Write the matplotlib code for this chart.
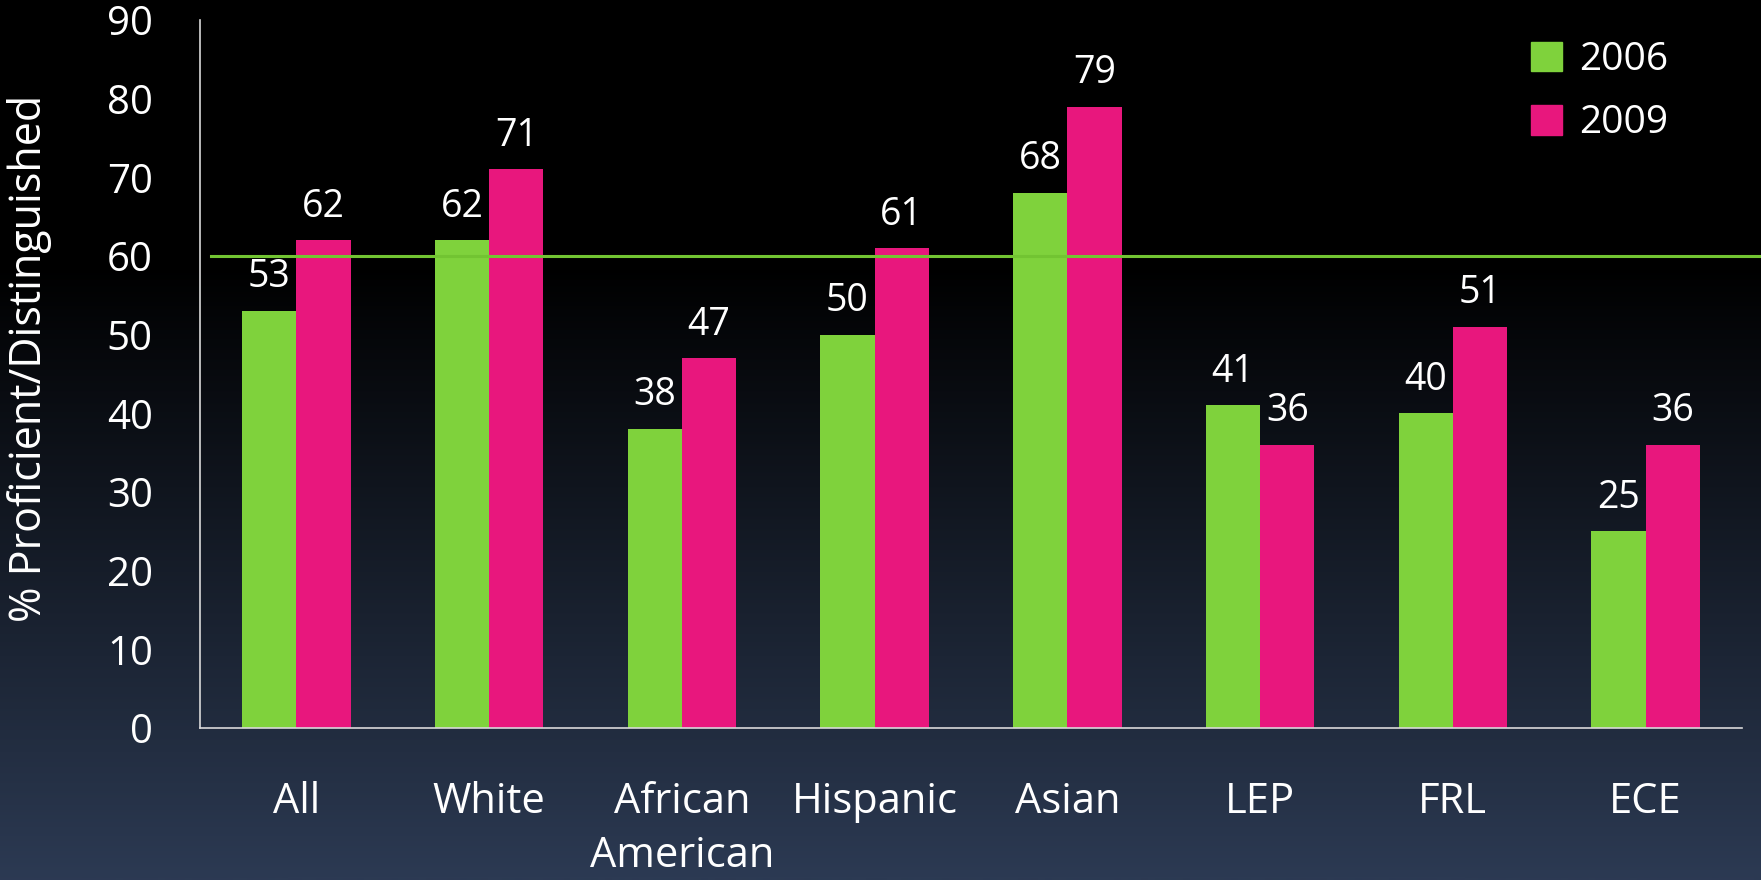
import numpy as np
import matplotlib.pyplot as plt
from matplotlib.colors import LinearSegmentedColormap
from matplotlib.patches import Patch
import matplotlib.transforms as mtransforms

# ---- data ----
groups = ["All", "White", "African\nAmerican", "Hispanic", "Asian", "LEP", "FRL", "ECE"]
series_names = ["2006", "2009"]
vals_2006 = [53, 62, 38, 50, 68, 41, 40, 25]
vals_2009 = [62, 71, 47, 61, 79, 36, 51, 36]
target = 60
yticks = [0, 10, 20, 30, 40, 50, 60, 70, 80, 90]

GREEN = "#7fd23c"
PINK = "#e8177d"
TXT = "white"

plt.rcParams["font.family"] = ["Open Sans", "DejaVu Sans"]

W, H = 1761, 880
fig = plt.figure(figsize=(W / 100, H / 100), dpi=100)

# background: black top, blue-grey fade at the bottom
bg = fig.add_axes([0, 0, 1, 1], zorder=-10)
bg.axis("off")
g = np.ones((H, 1))
start = 0.70  # fraction of height (from bottom) where the fade ends
yy = np.linspace(1, 0, H)
g[:, 0] = np.clip((start - yy) / start, 0, 1)
cmap = LinearSegmentedColormap.from_list("bg", ["#000000", "#2c3a53"])
bg.imshow(g, aspect="auto", cmap=cmap, extent=[0, 1, 0, 1], vmin=0, vmax=1)

ax = fig.add_axes([200 / W, 1 - 728 / H, 1542 / W, 708 / H])
ax.set_facecolor("none")

x = np.arange(len(groups))
bw = 0.282
b1 = ax.bar(x - bw / 2, vals_2006, bw, color=GREEN, label=series_names[0], zorder=2)
b2 = ax.bar(x + bw / 2, vals_2009, bw, color=PINK, label=series_names[1], zorder=2)

for bars, vals in ((b1, vals_2006), (b2, vals_2009)):
    for r, v in zip(bars, vals):
        ax.annotate(str(v), (r.get_x() + r.get_width() / 2, v),
                    xytext=(0, 17), textcoords="offset points",
                    ha="center", va="baseline", color=TXT, fontsize=27)

# target line, runs past the right edge of the plot
trans = mtransforms.blended_transform_factory(fig.transFigure, ax.transData)
ax.plot([211 / W, 1.0], [target, target], transform=trans, color="#72c432",
        lw=2.2, clip_on=False, zorder=3)

ax.set_xlim(-0.5, len(groups) - 0.5)
ax.set_ylim(0, 90)
ax.set_yticks(yticks)
ax.set_xticks(x)
ax.set_xticklabels(groups, fontsize=30, color=TXT, linespacing=1.38)
ax.tick_params(axis="x", length=0, pad=38)
ax.tick_params(axis="y", length=0, pad=34, labelsize=29, labelcolor=TXT)

for s in ("top", "right"):
    ax.spines[s].set_visible(False)
for s in ("left", "bottom"):
    ax.spines[s].set_color("#d9d9d9")
    ax.spines[s].set_linewidth(1.2)

fig.text(30 / W, 1 - 358 / H, "% Proficient/Distinguished", rotation=90,
         ha="center", va="center", color=TXT, fontsize=31)

leg = fig.legend(handles=[Patch(color=GREEN, label="2006"), Patch(color=PINK, label="2009")],
                 loc="upper left", bbox_to_anchor=(1496 / W, 1 - 6 / H),
                 frameon=False, fontsize=28, labelcolor=TXT,
                 handlelength=0.8, handleheight=0.8, handletextpad=0.45,
                 labelspacing=0.65)

fig.savefig("out.png", dpi=100)
